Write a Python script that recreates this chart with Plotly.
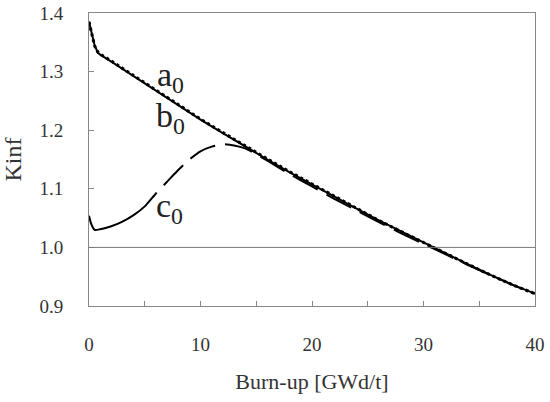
import plotly.graph_objects as go

burnup_ab = [0, 0.2, 0.5, 0.8, 1, 2, 4, 6, 8, 10, 12, 14, 16, 18, 20, 22, 24, 26, 28, 30, 32, 34, 36, 38, 40]
kinf_a0 = [1.385, 1.368, 1.345, 1.332, 1.329, 1.317, 1.292, 1.267, 1.242, 1.218, 1.195, 1.172, 1.150, 1.128, 1.107, 1.086, 1.066, 1.046, 1.027, 1.008, 0.989, 0.971, 0.953, 0.936, 0.921]
kinf_b0 = [1.385, 1.367, 1.344, 1.333, 1.330, 1.318, 1.293, 1.268, 1.243, 1.219, 1.196, 1.173, 1.151, 1.129, 1.108, 1.087, 1.066, 1.046, 1.027, 1.008, 0.989, 0.971, 0.953, 0.936, 0.921]

burnup_c = [0, 0.2, 0.5, 1, 2, 3, 4, 5, 6, 7, 8, 9, 10, 11, 12, 13, 14, 15, 16, 18, 20, 22, 24, 26, 28, 30, 32, 34, 36, 38, 40]
kinf_c0 = [1.054, 1.040, 1.030, 1.031, 1.036, 1.044, 1.055, 1.070, 1.092, 1.112, 1.132, 1.150, 1.164, 1.172, 1.176, 1.174, 1.169, 1.159, 1.148, 1.125, 1.104, 1.083, 1.063, 1.043, 1.024, 1.006, 0.988, 0.970, 0.953, 0.936, 0.921]

x_ticks = [0, 10, 20, 30, 40]
y_ticks = [0.9, 1.0, 1.1, 1.2, 1.3, 1.4]
y_tick_text = ["0.9", "1.0", "1.1", "1.2", "1.3", "1.4"]

labels = ["a<sub>0</sub>", "b<sub>0</sub>", "c<sub>0</sub>"]
label_x = [5.9, 5.8, 5.8]
label_y = [1.290, 1.220, 1.067]

c_dash = "90px,10px" + ",28px,10px" * 40

fig = go.Figure()
fig.add_trace(go.Scatter(x=burnup_ab, y=kinf_b0, mode="lines",
                         line=dict(color="black", width=3, dash="dot"), showlegend=False))
fig.add_trace(go.Scatter(x=burnup_ab, y=kinf_a0, mode="lines",
                         line=dict(color="black", width=2), showlegend=False))
fig.add_trace(go.Scatter(x=burnup_c, y=kinf_c0, mode="lines",
                         line=dict(color="black", width=2, dash=c_dash, shape="spline", smoothing=0.6),
                         showlegend=False))

fig.add_shape(type="line", xref="x", yref="y", x0=0, x1=40, y0=1.0, y1=1.0,
              line=dict(color="#777", width=1))

for t, xx, yy in zip(labels, label_x, label_y):
    fig.add_annotation(x=xx, y=yy, text=t, showarrow=False, xanchor="left",
                       font=dict(family="Liberation Serif", size=34, color="#222"))

fig.update_layout(
    width=550, height=402,
    margin=dict(l=89, r=15, t=13, b=96),
    paper_bgcolor="white", plot_bgcolor="white",
    font=dict(family="Liberation Serif", size=19, color="#333"),
    xaxis=dict(range=[0, 40], tickvals=x_ticks, ticks="inside", ticklen=5, automargin=False,
               tickcolor="#888", showline=True, linecolor="#888", mirror=True,
               showgrid=False, zeroline=False, ticklabelstandoff=21,
               minor=dict(dtick=5, ticks="inside", ticklen=5, tickcolor="#888"),
               title=dict(text="Burn-up [GWd/t]", standoff=19, font=dict(size=22))),
    yaxis=dict(range=[0.9, 1.4], tickvals=y_ticks, ticktext=y_tick_text, ticks="inside", ticklen=5,
               automargin=False,
               tickcolor="#888", showline=True, linecolor="#888", mirror=True,
               showgrid=False, zeroline=False, ticklabelstandoff=21,
               title=dict(text="Kinf", standoff=16, font=dict(size=24))),
)

fig.write_html("out.html")
